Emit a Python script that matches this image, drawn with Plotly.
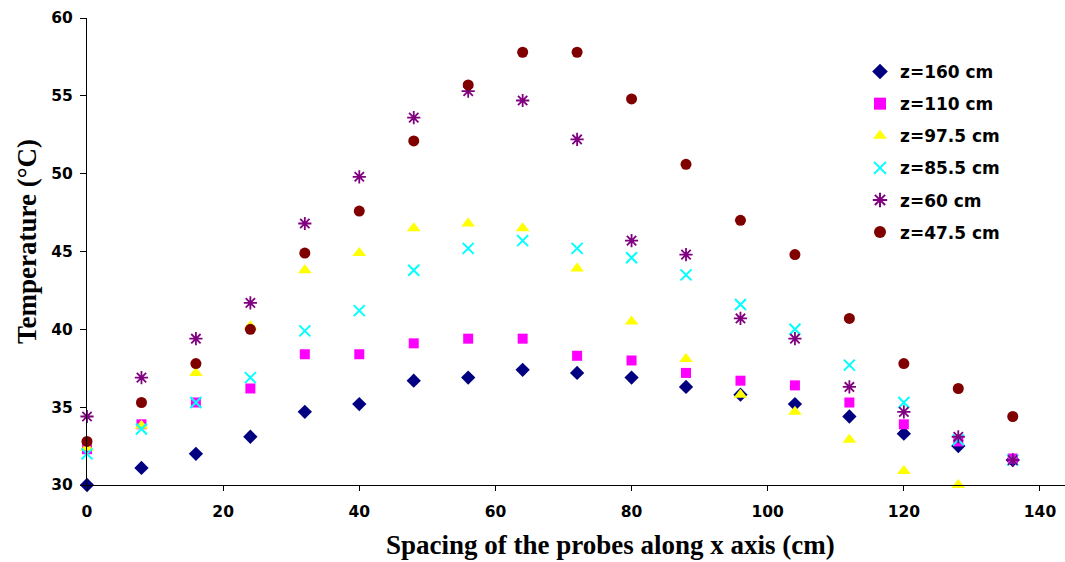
import plotly.graph_objects as go

# ---- data ----
x_cm = [0, 8, 16, 24, 32, 40, 48, 56, 64, 72, 80, 88, 96, 104, 112, 120, 128, 136]
z160 = [30.0, 31.1, 32.0, 33.1, 34.7, 35.2, 36.7, 36.9, 37.4, 37.2, 36.9, 36.3, 35.8, 35.2, 34.4, 33.3, 32.5, 31.6]
z110 = [32.3, 33.9, 35.3, 36.2, 38.4, 38.4, 39.1, 39.4, 39.4, 38.3, 38.0, 37.2, 36.7, 36.4, 35.3, 33.9, 32.8, 31.7]
z97_5 = [32.4, 33.8, 37.2, 40.2, 43.8, 44.9, 46.5, 46.8, 46.5, 43.9, 40.5, 38.1, 35.8, 34.7, 32.9, 30.9, 30.0, None]
z85_5 = [32.0, 33.6, 35.3, 36.9, 39.9, 41.2, 43.8, 45.2, 45.7, 45.2, 44.6, 43.5, 41.6, 40.0, 37.7, 35.3, 32.9, 31.6]
z60 = [34.4, 36.9, 39.4, 41.7, 46.8, 49.8, 53.6, 55.3, 54.7, 52.2, 45.7, 44.8, 40.7, 39.4, 36.3, 34.7, 33.1, 31.6]
z47_5 = [32.8, 35.3, 37.8, 40.0, 44.9, 47.6, 52.1, 55.7, 57.8, 57.8, 54.8, 50.6, 47.0, 44.8, 40.7, 37.8, 36.2, 34.4]

series_names = ["z=160 cm", "z=110 cm", "z=97.5 cm", "z=85.5 cm", "z=60 cm", "z=47.5 cm"]
series_values = [z160, z110, z97_5, z85_5, z60, z47_5]
x_ticks = [0, 20, 40, 60, 80, 100, 120, 140]
y_ticks = [30, 35, 40, 45, 50, 55, 60]

# ---- styles ----
styles = [
    dict(symbol="diamond", color="#000080", size=11, line=dict(width=0)),
    dict(symbol="square", color="#FF00FF", size=10, line=dict(width=0)),
    dict(symbol="triangle-up", color="#FFFF00", size=12, line=dict(width=0)),
    dict(symbol="x-thin-open", color="#00FFFF", size=11, line=dict(width=2, color="#00FFFF")),
    dict(symbol="asterisk-open", color="#800080", size=11, line=dict(width=1.8, color="#800080")),
    dict(symbol="circle", color="#800000", size=11, line=dict(width=0)),
]

W, H = 1065, 562
ML, MR, MT, MB = 87, 0, 18, 77

fig = go.Figure()
for i, (name, vals, st) in enumerate(zip(series_names, series_values, styles)):
    fig.add_trace(go.Scatter(
        x=x_cm, y=vals, mode="markers", name=name,
        marker=st, cliponaxis=False, legendgroup=f"g{i}",
    ))

tick_font = dict(family="DejaVu Sans", size=15.5, color="black", weight="bold")
title_font = dict(family="Liberation Serif, Times New Roman", size=27, color="black", weight="bold")

pw = W - ML - MR
ph = H - MT - MB

fig.update_layout(
    width=W, height=H,
    margin=dict(l=ML, r=MR, t=MT, b=MB, pad=0),
    paper_bgcolor="white", plot_bgcolor="white",
    showlegend=True,
    legend=dict(
        x=(860 - ML) / pw, y=(H - MB - 54) / ph, xanchor="left", yanchor="top",
        font=dict(family="DejaVu Sans", size=17, color="black", weight="bold"),
        bgcolor="rgba(0,0,0,0)", tracegroupgap=7, itemsizing="constant",
    ),
    xaxis=dict(
        range=[0, (W - ML) / 6.807], tickvals=x_ticks, ticks="outside", ticklen=5,
        tickcolor="black", showline=True, linecolor="black", linewidth=1,
        showgrid=False, zeroline=False, tickfont=tick_font, ticklabelstandoff=7,
    ),
    yaxis=dict(
        range=[30, 60], tickvals=y_ticks, ticks="outside", ticklen=6,
        tickcolor="black", showline=True, linecolor="black", linewidth=1,
        showgrid=False, zeroline=False, tickfont=tick_font, ticklabelstandoff=4,
    ),
    annotations=[
        dict(text="Spacing of the probes along x axis (cm)", xref="paper", yref="paper",
             x=(610 - ML) / pw, y=(H - MB - 545) / ph, xanchor="center", yanchor="middle",
             showarrow=False, font=title_font),
        dict(text="Temperature (°C)", xref="paper", yref="paper",
             x=(27 - ML) / pw, y=(H - MB - 242) / ph, xanchor="center", yanchor="middle",
             textangle=-90, showarrow=False, font=title_font),
    ],
)

fig.write_html("out.html")
